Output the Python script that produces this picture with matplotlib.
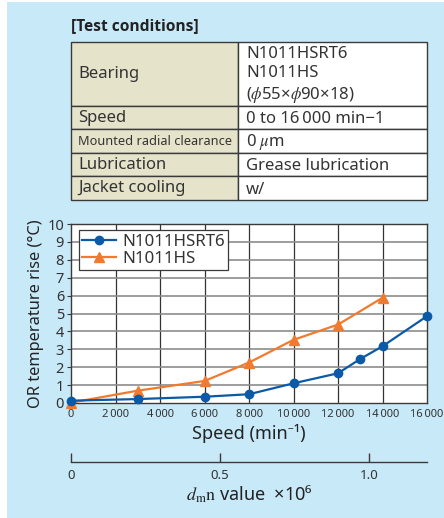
import matplotlib.pyplot as plt
from matplotlib.patches import Rectangle

plt.rcParams['font.family'] = ['Noto Sans', 'DejaVu Sans']
plt.rcParams['mathtext.fontset'] = 'stix'

# ------------------------------------------------------------
#  data
# ------------------------------------------------------------
speed_rt6 = [0, 3000, 6000, 8000, 10000, 12000, 13000, 14000, 16000]
rise_rt6 = [0.13, 0.22, 0.35, 0.49, 1.10, 1.66, 2.46, 3.17, 4.85]

speed_hs = [0, 3000, 6000, 8000, 10000, 12000, 14000]
rise_hs = [0.02, 0.69, 1.23, 2.26, 3.53, 4.38, 5.88]

series_names = ['N1011HSRT6', 'N1011HS']

x_ticks = [0, 2000, 4000, 6000, 8000, 10000, 12000, 14000, 16000]
x_ticklabels = ['0', '2\u2009000', '4\u2009000', '6\u2009000', '8\u2009000',
                '10\u2009000', '12\u2009000', '14\u2009000', '16\u2009000']
y_ticks = list(range(0, 11))

dmn_ticks = [0, 0.5, 1.0]
dmn_ticklabels = ['0', '0.5', '1.0']
dmn_max = 1.195          # dmn (x10^6) at 16 000 min-1

table_labels = ['Bearing', 'Speed', 'Mounted radial clearance',
                'Lubrication', 'Jacket cooling']
table_values = ['N1011HSRT6\nN1011HS\n($\\phi$55×$\\phi$90×18)',
                '0 to 16\u2009000 min\u22121',
                '0 $\\mu$m',
                'Grease lubrication',
                'w/']

# ------------------------------------------------------------
#  layout (pixels)
# ------------------------------------------------------------
W, H = 444, 518
BG = '#c8e9f8'
BLUE = '#0b5aa8'
ORANGE = '#f27a2e'
DARK = '#3a3a3a'
TXT = '#333333'
row_edges = [42, 106, 129, 153, 176, 200]
col_edges = [71, 238, 427]


def px_rect(l, t, r, b):
    return [l / W, (H - b) / H, (r - l) / W, (b - t) / H]


fig = plt.figure(figsize=(W / 100, H / 100), dpi=100, facecolor='white')

# background panel + table drawn in pixel coords
deco = fig.add_axes([0, 0, 1, 1], zorder=0)
deco.set_xlim(0, W)
deco.set_ylim(H, 0)
deco.axis('off')
deco.add_patch(Rectangle((7, 2), W - 7, H - 2, facecolor=BG, edgecolor='none'))

deco.text(71, 26, '[Test conditions]', fontsize=11.2, fontweight='bold',
          family=['Open Sans', 'DejaVu Sans'], color='#222222',
          va='center', ha='left')

for i, (lab, val) in enumerate(zip(table_labels, table_values)):
    top, bot = row_edges[i], row_edges[i + 1]
    deco.add_patch(Rectangle((col_edges[0], top), col_edges[1] - col_edges[0], bot - top,
                             facecolor='#e6e3cb', edgecolor=DARK, lw=1.0))
    deco.add_patch(Rectangle((col_edges[1], top), col_edges[2] - col_edges[1], bot - top,
                             facecolor='white', edgecolor=DARK, lw=1.0))
    ymid = (top + bot) / 2 + 0.5
    fs = 9.2 if len(lab) > 20 else 12
    deco.text(col_edges[0] + 7, ymid, lab, fontsize=fs, color=TXT,
              va='center', ha='left')
    deco.text(col_edges[1] + 8, ymid + 1, val, fontsize=12, color=TXT,
              va='center', ha='left', linespacing=1.27)

# ------------------------------------------------------------
#  main chart
# ------------------------------------------------------------
ax = fig.add_axes(px_rect(71, 224, 427, 403), zorder=2)
ax.set_facecolor('white')

ax.plot(speed_rt6, rise_rt6, color=BLUE, lw=1.6, marker='o', ms=6,
        label=series_names[0], clip_on=False, zorder=4)
ax.plot(speed_hs, rise_hs, color=ORANGE, lw=1.6, marker='^', ms=7,
        label=series_names[1], clip_on=False, zorder=3)

ax.set_xlim(0, 16000)
ax.set_ylim(0, 10)
ax.set_xticks(x_ticks)
ax.set_xticklabels(x_ticklabels, fontsize=8, color=TXT)
ax.set_yticks(y_ticks)
ax.set_yticklabels([str(v) for v in y_ticks], fontsize=10.5, color=TXT)
ax.tick_params(axis='x', length=0, pad=4)
ax.tick_params(axis='y', length=3, width=0.8, color=DARK, pad=2)

for v in x_ticks[1:-1]:
    ax.axvline(v, color='#333333', lw=0.9, zorder=1)
for v in y_ticks[1:-1]:
    ax.axhline(v, color='#8c8c8c', lw=1.2, zorder=1)
for s in ax.spines.values():
    s.set_color(DARK)
    s.set_linewidth(1.0)

ax.set_xlabel('Speed (min\u207b\u00b9)', fontsize=13, color='#222222', labelpad=3)
ax.set_ylabel('OR temperature rise (°C)', fontsize=11.8, color='#222222')
ax.yaxis.set_label_coords(-0.077, 0.5)

leg = ax.legend(loc='upper left', bbox_to_anchor=(0.022, 0.965), fontsize=12.2,
                frameon=True, fancybox=False, framealpha=1, edgecolor=DARK,
                handlelength=2.0, borderpad=0.2, labelspacing=0.05,
                handletextpad=0.35, borderaxespad=0)
leg.get_frame().set_linewidth(0.9)
for t in leg.get_texts():
    t.set_color(TXT)

# ------------------------------------------------------------
#  dmn scale under the chart
# ------------------------------------------------------------
ax2 = fig.add_axes(px_rect(71, 452, 427, 462), zorder=2)
ax2.set_facecolor('none')
for side in ['left', 'right', 'top']:
    ax2.spines[side].set_visible(False)
ax2.spines['bottom'].set_color(DARK)
ax2.spines['bottom'].set_linewidth(1.0)
ax2.set_yticks([])
ax2.set_xlim(0, dmn_max)
ax2.set_xticks(dmn_ticks)
ax2.set_xticklabels(dmn_ticklabels, fontsize=9.5, color=TXT)
ax2.tick_params(axis='x', direction='in', length=6.5, width=1.0, color=DARK, pad=5)
ax2.set_xlabel('$d_{\\rm m}{\\rm n}$ value  ×10\u2076', fontsize=13,
               color='#222222', labelpad=1)

fig.savefig('out.png', dpi=100, facecolor='white')
